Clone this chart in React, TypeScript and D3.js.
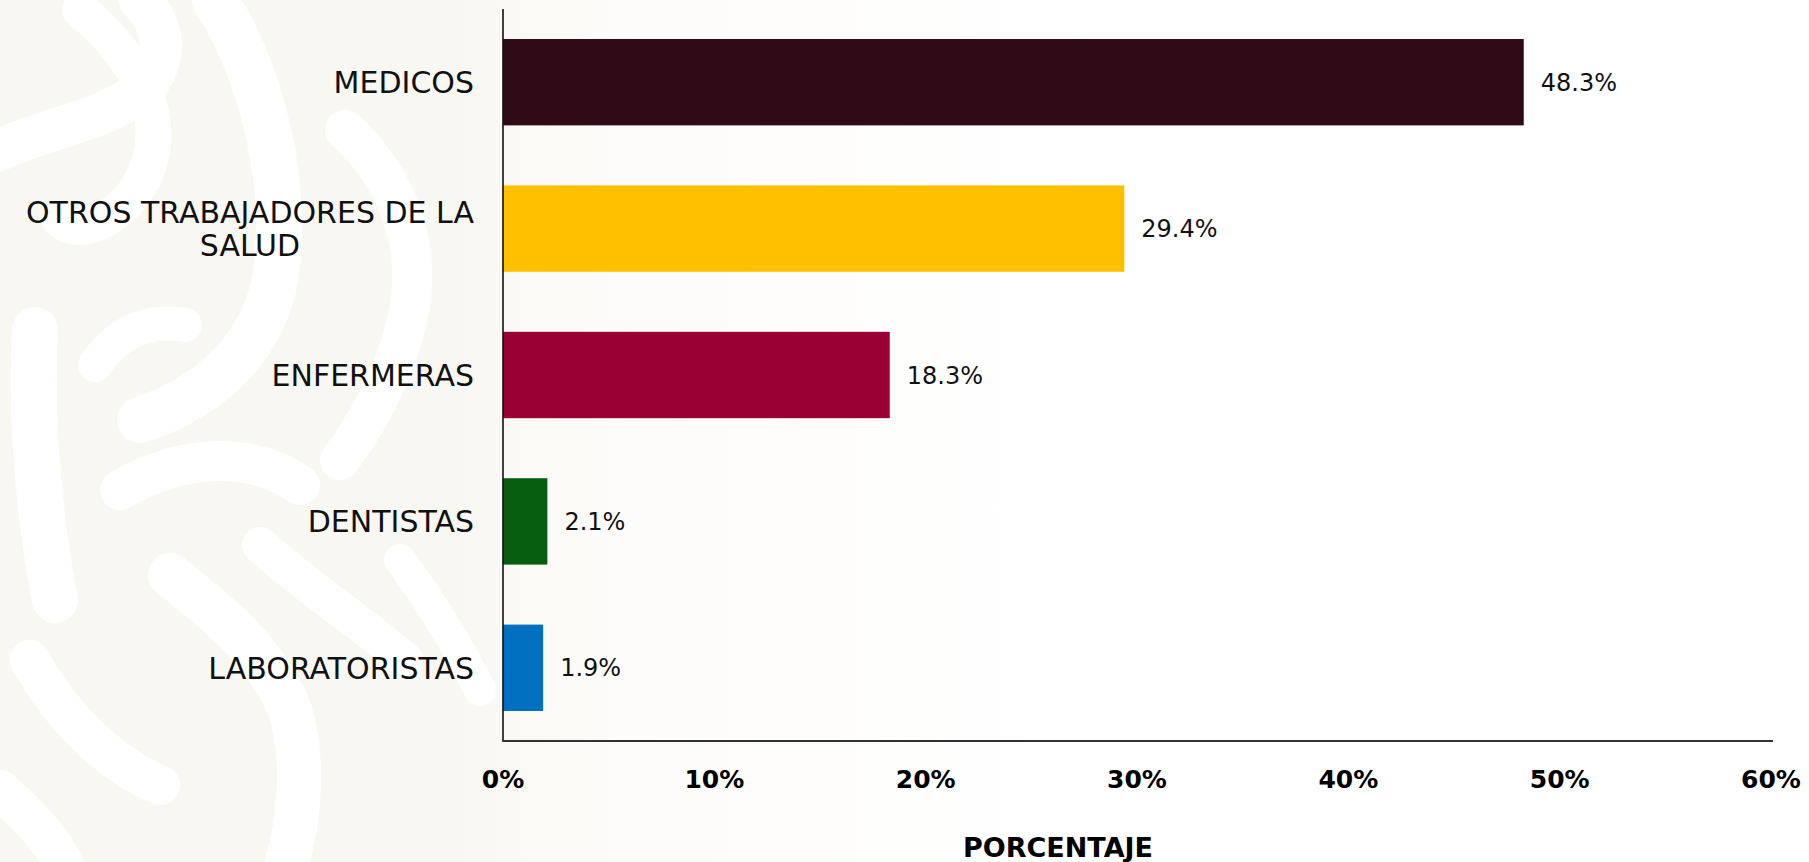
import React, { useEffect, useRef } from "react";
import * as d3 from "d3";

const categories = [
  "MEDICOS",
  "OTROS TRABAJADORES DE LA SALUD",
  "ENFERMERAS",
  "DENTISTAS",
  "LABORATORISTAS",
];
const values = [48.3, 29.4, 18.3, 2.1, 1.9];
const barColors = ["#2f0a17", "#ffc000", "#990033", "#075e11", "#0070c0"];
const xTicks = [0, 10, 20, 30, 40, 50, 60];
const xAxisTitle = "PORCENTAJE";

const W = 1809;
const H = 862;
const FONT = "'DejaVu Sans', 'Noto Sans', sans-serif";

export default function App() {
  const ref = useRef<SVGSVGElement | null>(null);

  useEffect(() => {
    const svg = d3.select(ref.current);
    svg.selectAll("*").remove();

    const left = 503;
    const right = 1771;
    const top = 9;
    const bottom = 741;

    const x = d3.scaleLinear().domain([0, 60]).range([left, right]);
    const y = d3
      .scaleBand<string>()
      .domain(categories)
      .range([top, bottom])
      .paddingInner(0.41)
      .paddingOuter(0.205);

    // background
    const defs = svg.append("defs");
    const grad = defs
      .append("linearGradient")
      .attr("id", "bgGrad")
      .attr("x1", "0")
      .attr("x2", "1")
      .attr("y1", "0")
      .attr("y2", "0");
    grad.append("stop").attr("offset", "0").attr("stop-color", "#f9f7f2");
    grad.append("stop").attr("offset", "0.25").attr("stop-color", "#f9f7f2");
    grad.append("stop").attr("offset", "0.34").attr("stop-color", "#fdfcfa");
    grad.append("stop").attr("offset", "0.6").attr("stop-color", "#ffffff");
    svg.append("rect").attr("width", W).attr("height", H).attr("fill", "url(#bgGrad)");

    // decorative white swirls (approximate background pattern)
    const deco = svg
      .append("g")
      .attr("fill", "none")
      .attr("stroke", "#ffffff")
      .attr("stroke-linecap", "round")
      .attr("stroke-linejoin", "round");
    const swirls = [
      { d: "M 0 150 C 50 125, 120 120, 150 80 C 170 50, 160 20, 140 0", w: 42 },
      { d: "M 80 10 C 130 50, 165 110, 150 160 C 135 215, 80 240, 60 220", w: 36 },
      { d: "M 215 0 C 260 70, 290 180, 275 280 C 262 345, 215 395, 140 420", w: 46 },
      { d: "M 35 330 C 30 430, 40 520, 55 600", w: 46 },
      { d: "M 345 130 C 395 175, 420 240, 410 305 C 400 365, 370 420, 340 460", w: 40 },
      { d: "M 120 490 C 180 455, 250 450, 300 485", w: 40 },
      { d: "M 170 575 C 220 615, 265 650, 290 710 C 305 760, 300 820, 285 870", w: 44 },
      { d: "M 30 660 C 60 715, 110 765, 160 785", w: 40 },
      { d: "M 260 545 C 310 590, 365 625, 405 660", w: 36 },
      { d: "M 95 365 C 115 335, 145 318, 185 325", w: 34 },
      { d: "M 0 790 C 40 825, 60 850, 70 880", w: 40 },
      { d: "M 400 560 C 430 600, 455 640, 480 690", w: 32 },
    ];
    swirls.forEach((s) => {
      deco.append("path").attr("d", s.d).attr("stroke-width", s.w);
    });

    // bars
    svg
      .append("g")
      .selectAll("rect")
      .data(categories)
      .join("rect")
      .attr("x", x(0))
      .attr("y", (d) => y(d) as number)
      .attr("width", (_d, i) => x(values[i]) - x(0))
      .attr("height", y.bandwidth())
      .attr("fill", (_d, i) => barColors[i]);

    // value labels
    svg
      .append("g")
      .selectAll("text")
      .data(categories)
      .join("text")
      .attr("x", (_d, i) => x(values[i]) + 17)
      .attr("y", (d) => (y(d) as number) + y.bandwidth() / 2)
      .attr("dy", "0.36em")
      .attr("font-family", FONT)
      .attr("font-size", 24)
      .attr("fill", "#111")
      .text((_d, i) => `${values[i].toFixed(1)}%`);

    // category labels with wrapping
    const labelRight = 474;
    const maxWidth = 470;
    const lineH = 33;
    const lg = svg.append("g");
    categories.forEach((cat) => {
      const t = lg
        .append("text")
        .attr("font-family", FONT)
        .attr("font-size", 30)
        .attr("fill", "#111")
        .attr("text-anchor", "middle");
      const words = cat.split(" ");
      const lines: string[] = [];
      let cur = "";
      const probe = t.append("tspan");
      words.forEach((w) => {
        const test = cur ? cur + " " + w : w;
        probe.text(test);
        const len = (probe.node() as SVGTextContentElement).getComputedTextLength();
        if (len > maxWidth && cur) {
          lines.push(cur);
          cur = w;
        } else {
          cur = test;
        }
      });
      if (cur) lines.push(cur);
      let maxLen = 0;
      lines.forEach((l) => {
        probe.text(l);
        maxLen = Math.max(maxLen, (probe.node() as SVGTextContentElement).getComputedTextLength());
      });
      probe.remove();
      const cx = labelRight - maxLen / 2;
      const cy = (y(cat) as number) + y.bandwidth() / 2;
      const y0 = cy - ((lines.length - 1) * lineH) / 2;
      lines.forEach((l, i) => {
        t.append("tspan")
          .attr("x", cx)
          .attr("y", y0 + i * lineH)
          .attr("dy", "0.36em")
          .text(l);
      });
    });

    // axes lines
    svg
      .append("line")
      .attr("x1", x(0))
      .attr("x2", x(0))
      .attr("y1", top)
      .attr("y2", bottom)
      .attr("stroke", "#111")
      .attr("stroke-width", 1.6);
    svg
      .append("line")
      .attr("x1", x(0) - 0.8)
      .attr("x2", x(60) + 2)
      .attr("y1", bottom)
      .attr("y2", bottom)
      .attr("stroke", "#333")
      .attr("stroke-width", 2);

    // x tick labels
    svg
      .append("g")
      .selectAll("text")
      .data(xTicks)
      .join("text")
      .attr("x", (d) => x(d))
      .attr("y", 788)
      .attr("text-anchor", "middle")
      .attr("font-family", FONT)
      .attr("font-weight", "bold")
      .attr("font-size", 25)
      .attr("fill", "#000")
      .text((d) => `${d}%`);

    // axis title
    svg
      .append("text")
      .attr("x", 1058)
      .attr("y", 857)
      .attr("text-anchor", "middle")
      .attr("font-family", FONT)
      .attr("font-weight", "bold")
      .attr("font-size", 27)
      .attr("fill", "#000")
      .text(xAxisTitle);
  }, []);

  return (
    <svg
      ref={ref}
      width={W}
      height={H}
      style={{ position: "fixed", left: 0, top: 0, display: "block" }}
    />
  );
}
